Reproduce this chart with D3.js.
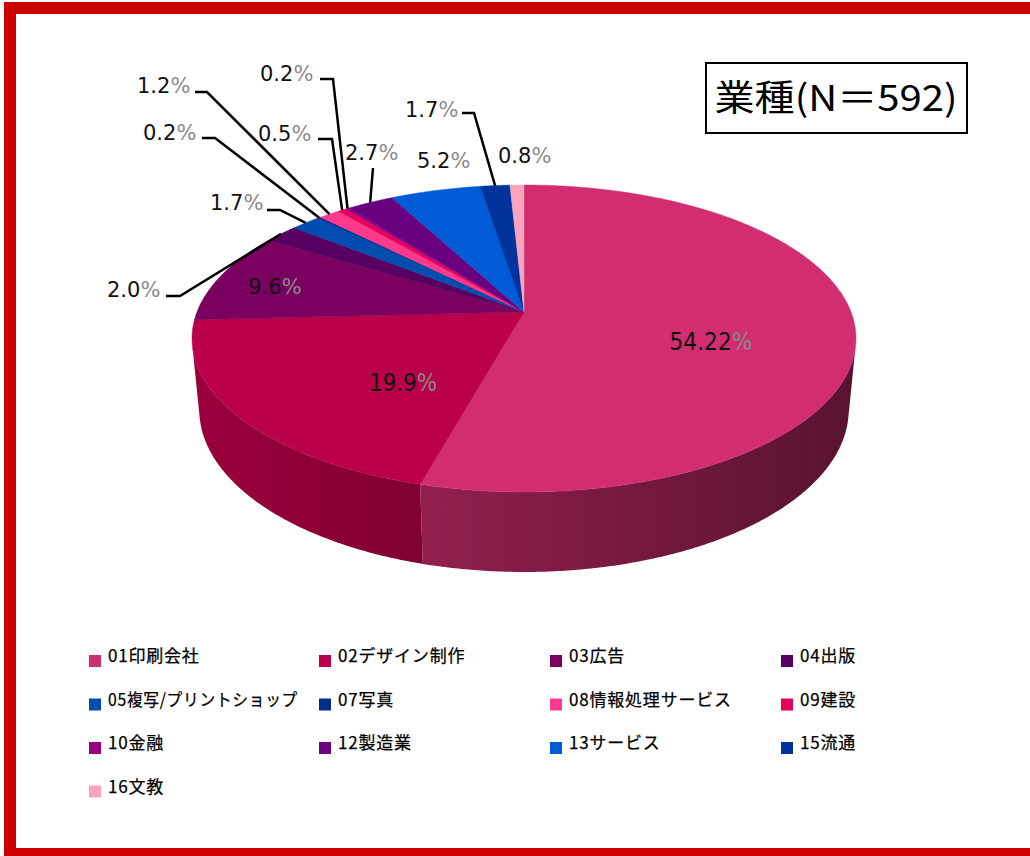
<!DOCTYPE html>
<html>
<head>
<meta charset="utf-8">
<script src="https://cdn.jsdelivr.net/npm/d3@7"></script>
<style>
  body { margin: 0; background: #fff; }
  svg { display: block; }
</style>
</head>
<body>
<svg id="chart"></svg>
<script>
// Data
const categories = ["01印刷会社", "02デザイン制作", "03広告", "04出版", "05複写/プリントショップ", "07写真",
    "08情報処理サービス", "09建設", "10金融", "12製造業", "13サービス", "15流通", "16文教"];
const values = [54.22, 19.9, 9.6, 2.0, 1.7, 0.2, 1.2, 0.5, 0.2, 2.7, 5.2, 1.7, 0.8];
const colors = ["#d12d6f", "#ba0048", "#7c0060", "#570062", "#004db0", "#002e8c",
    "#ff3a8c", "#e5005b", "#990080", "#680080", "#005cd6", "#00339c", "#faa3be"];
const title = "業種(N＝592)";

// Label placement (like the hand-placed labels in the original chart)
const labelLayout = [
    { inside: true, x: 711, y: 350, narrow: true, len: 83 },
    { inside: true, x: 403, y: 391, narrow: true, len: 68 },
    { inside: true, x: 275, y: 294 },
    { x: 107, y: 297, line: [[166, 296], [180, 296]] },
    { x: 210, y: 210, line: [[267, 210], [280, 210]] },
    { x: 143, y: 140, line: [[202, 138], [215, 138]] },
    { x: 137, y: 93, line: [[195, 92], [207, 92]] },
    { x: 258, y: 141, line: [[318, 139], [332, 139]] },
    { x: 260, y: 81, line: [[320, 79], [333, 79]] },
    { x: 345, y: 160, line: [[373, 168]] },
    { x: 417, y: 168 },
    { x: 405, y: 117, line: [[462, 113], [474, 113]] },
    { x: 498, y: 163 }
];

const W = 1030, H = 856;
const svg = d3.select("#chart").attr("width", W).attr("height", H);

// red frame
svg.append("rect")
    .attr("x", 10).attr("y", 8)
    .attr("width", 1030).attr("height", 846)
    .attr("fill", "#fff")
    .attr("stroke", "#cc0000")
    .attr("stroke-width", 12);

// Perspective projection of a flat cylinder
const cx = 524, cy = 312, k = 327;
const sinA = 0.4554, cosA = Math.sqrt(1 - sinA * sinA);
const D = 5.158;        // camera distance (radius = 1)
const depth = 0.2468;   // cylinder height

function projectXYZ(X, Z, yUp) {
    const s = Z * sinA - yUp * cosA;
    const d = Z * cosA + yUp * sinA;
    const f = D / (D - d);
    return [cx + k * X * f, cy + k * s * f];
}
function project(phi, yUp) {
    return projectXYZ(Math.sin(phi), -Math.cos(phi), yUp);
}

function arcPoints(a0, a1, yUp) {
    const n = Math.max(2, Math.ceil(Math.abs(a1 - a0) / (Math.PI / 360)));
    return d3.range(n + 1).map(i => project(a0 + (a1 - a0) * i / n, yUp));
}

const pie = d3.pie().sort(null).value(d => d);
const arcs = pie(values);

// gradients for side walls
const defs = svg.append("defs");
function shade(c, f) {
    const r = d3.rgb(c);
    return d3.rgb(r.r * f, r.g * f, r.b * f).formatHex();
}
colors.forEach((c, i) => {
    const g = defs.append("linearGradient")
        .attr("id", "side" + i)
        .attr("gradientUnits", "userSpaceOnUse")
        .attr("x1", cx - k * 1.02).attr("x2", cx + k * 1.02)
        .attr("y1", 0).attr("y2", 0);
    g.append("stop").attr("offset", 0).attr("stop-color", shade(c, 0.84));
    g.append("stop").attr("offset", 1).attr("stop-color", shade(c, 0.42));
});

const line = d3.line();

// visible side range
const c0 = 1 / (D * cosA);
const visStart = Math.acos(-c0), visEnd = 2 * Math.PI - Math.acos(-c0);

const sides = svg.append("g");
arcs.forEach((a, i) => {
    const a0 = Math.max(a.startAngle, visStart), a1 = Math.min(a.endAngle, visEnd);
    if (a1 <= a0) return;
    const pts = arcPoints(a0, a1, 0).concat(arcPoints(a1, a0, -depth));
    sides.append("path")
        .attr("d", line(pts) + "Z")
        .attr("fill", `url(#side${i})`);
});

const center = projectXYZ(0, 0, 0);
const tops = svg.append("g");
arcs.forEach((a, i) => {
    const pts = [center].concat(arcPoints(a.startAngle, a.endAngle, 0));
    tops.append("path")
        .attr("d", line(pts) + "Z")
        .attr("fill", colors[i])
        .attr("stroke", colors[i])
        .attr("stroke-width", 0.5)
        .attr("stroke-linejoin", "round");
});

// labels
function fmt(v) {
    return Math.abs(Math.round(v * 10) - v * 10) < 1e-6 ? v.toFixed(1) : v.toFixed(2);
}
const labels = svg.append("g");
arcs.forEach((a, i) => {
    const L = labelLayout[i];
    const txt = fmt(values[i]);
    if (L.line) {
        const mid = (a.startAngle + a.endAngle) / 2;
        const pts = L.line.concat([project(mid, 0)]);
        labels.append("path")
            .attr("d", line(pts))
            .attr("fill", "none")
            .attr("stroke", "#000")
            .attr("stroke-width", 2.5);
    }
    const t = labels.append("text")
        .attr("transform", `translate(${L.x},${L.y})`)
        .attr("text-anchor", L.inside ? "middle" : "start")
        .attr("font-family", "DejaVu Sans, sans-serif")
        .attr("font-size", L.narrow ? 25 : 21)
        .attr("fill", "#111");
    t.append("tspan").text(txt);
    t.append("tspan").attr("fill", "#8a8a8a").text("%");
    if (L.narrow) {
        const w = t.node().getComputedTextLength();
        t.attr("transform", `translate(${L.x},${L.y}) scale(${L.len / w},1)`);
    }
});

// title box
svg.append("rect")
    .attr("x", 706).attr("y", 63)
    .attr("width", 261).attr("height", 70)
    .attr("fill", "#fff")
    .attr("stroke", "#000")
    .attr("stroke-width", 2);
svg.append("text")
    .attr("x", 836).attr("y", 111)
    .attr("text-anchor", "middle")
    .attr("font-family", "Noto Sans CJK JP, sans-serif")
    .attr("font-size", 36)
    .attr("textLength", 243)
    .attr("lengthAdjust", "spacingAndGlyphs")
    .attr("fill", "#000")
    .text(title);

// legend
const colX = [89, 319, 550, 781];
const rowY = 655, rowH = 43.5;
const legend = svg.append("g");
categories.forEach((name, i) => {
    const x = colX[i % 4], y = rowY + Math.floor(i / 4) * rowH;
    legend.append("rect")
        .attr("x", x).attr("y", y)
        .attr("width", 12).attr("height", 12)
        .attr("fill", colors[i]);
    const t = legend.append("text")
        .attr("x", x + 19).attr("y", y + 7)
        .attr("font-family", "Noto Sans CJK JP, sans-serif")
        .attr("font-size", 17)
        .attr("letter-spacing", 0.8)
        .attr("fill", "#000")
        .attr("stroke", "#000")
        .attr("stroke-width", 0.25)
        .text(name);
    // keep long names clear of the next column
    const w = t.node().getComputedTextLength();
    if (w > 190) t.attr("textLength", 190).attr("lengthAdjust", "spacingAndGlyphs");
});
</script>
</body>
</html>
